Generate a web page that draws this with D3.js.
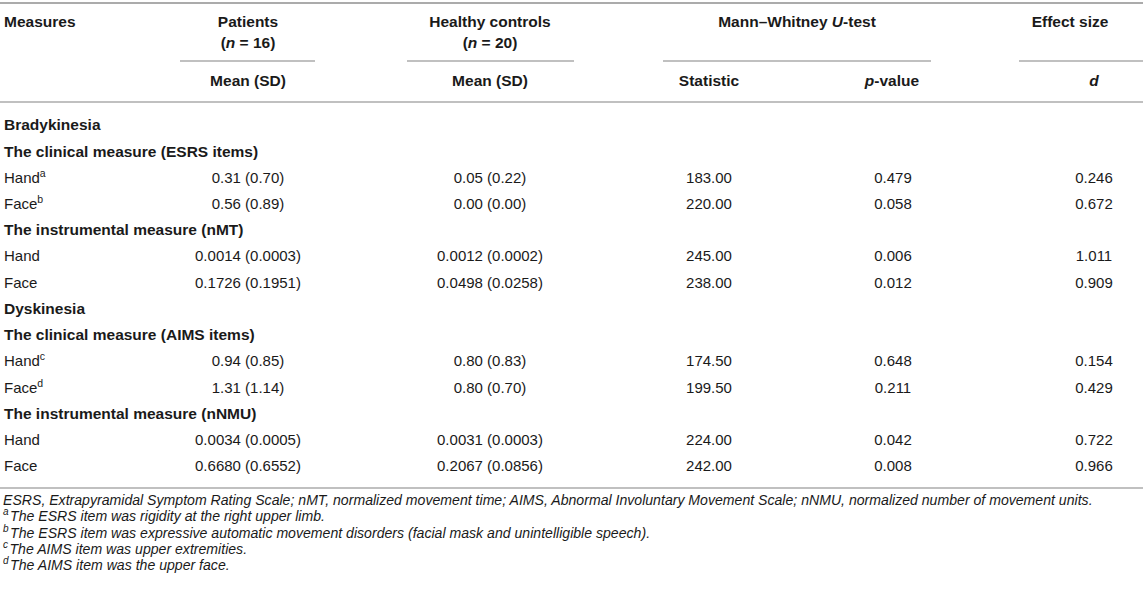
<!DOCTYPE html>
<html>
<head>
<meta charset="utf-8">
<script src="https://cdn.jsdelivr.net/npm/d3@7"></script>
<style>
  html, body { margin: 0; padding: 0; background: #fff; }
  svg text { font-family: "Liberation Sans", Arial, Helvetica, sans-serif; fill: #1a1a1a; }
</style>
</head>
<body>
<div class="vis-table"></div>
<script>
// Row labels (table body, top to bottom)
const rowLabels = ["Bradykinesia", "The clinical measure (ESRS items)", "Hand", "Face",
    "The instrumental measure (nMT)", "Hand", "Face",
    "Dyskinesia", "The clinical measure (AIMS items)", "Hand", "Face",
    "The instrumental measure (nNMU)", "Hand", "Face"];
const rowKinds = ["section", "group", "item", "item", "group", "item", "item",
    "section", "group", "item", "item", "group", "item", "item"];
const rowNotes = ["", "", "a", "b", "", "", "", "", "", "c", "d", "", "", ""];

// Values for the eight item rows
const decimals = [2, 2, 4, 4, 2, 2, 4, 4];
const patientMean = [0.31, 0.56, 0.0014, 0.1726, 0.94, 1.31, 0.0034, 0.6680];
const patientSD = [0.70, 0.89, 0.0003, 0.1951, 0.85, 1.14, 0.0005, 0.6552];
const controlMean = [0.05, 0.00, 0.0012, 0.0498, 0.80, 0.80, 0.0031, 0.2067];
const controlSD = [0.22, 0.00, 0.0002, 0.0258, 0.83, 0.70, 0.0003, 0.0856];
const uStatistic = [183.00, 220.00, 245.00, 238.00, 174.50, 199.50, 224.00, 242.00];
const pValue = [0.479, 0.058, 0.006, 0.012, 0.648, 0.211, 0.042, 0.008];
const effectD = [0.246, 0.672, 1.011, 0.909, 0.154, 0.429, 0.722, 0.966];

const footNotes = [
    ["", "ESRS, Extrapyramidal Symptom Rating Scale; nMT, normalized movement time; AIMS, Abnormal Involuntary Movement Scale; nNMU, normalized number of movement units."],
    ["a", "The ESRS item was rigidity at the right upper limb."],
    ["b", "The ESRS item was expressive automatic movement disorders (facial mask and unintelligible speech)."],
    ["c", "The AIMS item was upper extremities."],
    ["d", "The AIMS item was the upper face."]
];

const W = 1143, H = 597;
const lineColor = "#ababab";
const fs = 15;

const svg = d3.select(".vis-table").append("svg")
    .attr("width", W).attr("height", H);

// Column centres
const col = d3.scaleOrdinal()
    .domain(["patients", "controls", "stat", "p", "d"])
    .range([248, 490, 709, 893, 1094]);

// Row positions
const y = d3.scaleLinear().domain([0, rowLabels.length - 1]).range([125, 466]);

function rule(x1, x2, yy, w) {
    svg.append("line")
        .attr("x1", x1).attr("x2", x2).attr("y1", yy).attr("y2", yy)
        .attr("stroke", lineColor).attr("stroke-width", w || 1.5);
}

// Header rules
rule(0, W, 3, 2);
rule(180, 315, 61);
rule(407, 574, 61);
rule(663, 931, 61);
rule(1019, W, 61);
rule(0, W, 102);

function head(x, yy, parts, anchor) {
    const t = svg.append("text")
        .attr("x", x).attr("y", yy).attr("dy", "0.35em")
        .attr("text-anchor", anchor || "middle")
        .attr("font-size", fs + 0.5).attr("font-weight", "bold");
    parts.forEach(p => {
        t.append("tspan").text(p[0]).attr("font-style", p[1] ? "italic" : null);
    });
    return t;
}

head(4, 22, [["Measures"]], "start");
head(col("patients"), 22, [["Patients"]]);
head(col("patients"), 43, [["("], ["n", true], [" = 16)"]]);
head(col("controls"), 22, [["Healthy controls"]]);
head(col("controls"), 43, [["("], ["n", true], [" = 20)"]]);
head(797, 22, [["Mann–Whitney "], ["U", true], ["-test"]]);
head(1070, 22, [["Effect size"]]);

head(col("patients"), 81, [["Mean (SD)"]]);
head(col("controls"), 81, [["Mean (SD)"]]);
head(col("stat"), 81, [["Statistic"]]);
head(col("p") - 1, 81, [["p", true], ["-value"]]);
head(col("d"), 81, [["d", true]]);

// Body rows
const rows = rowLabels.map((label, i) => ({ label, kind: rowKinds[i], note: rowNotes[i], i }));
let k = 0;
rows.forEach(r => { if (r.kind === "item") r.k = k++; });

const labels = svg.selectAll(".row-label")
    .data(rows)
    .enter()
    .append("text")
    .attr("class", "row-label")
    .attr("x", 4)
    .attr("y", d => y(d.i))
    .attr("dy", "0.35em")
    .attr("font-size", d => d.kind === "item" ? fs : fs + 0.5)
    .attr("font-weight", d => d.kind === "item" ? "normal" : "bold")
    .text(d => d.label);

labels.filter(d => d.note)
    .append("tspan")
    .attr("dy", -6)
    .attr("font-size", 10.5)
    .text(d => d.note);

const items = rows.filter(r => r.kind === "item");
const f2 = d3.format(".2f"), f3 = d3.format(".3f");
const fmt = (v, n) => d3.format("." + n + "f")(v);

const cells = [];
items.forEach(r => {
    const j = r.k;
    cells.push({ c: "patients", i: r.i, t: fmt(patientMean[j], decimals[j]) + " (" + fmt(patientSD[j], decimals[j]) + ")" });
    cells.push({ c: "controls", i: r.i, t: fmt(controlMean[j], decimals[j]) + " (" + fmt(controlSD[j], decimals[j]) + ")" });
    cells.push({ c: "stat", i: r.i, t: f2(uStatistic[j]) });
    cells.push({ c: "p", i: r.i, t: f3(pValue[j]) });
    cells.push({ c: "d", i: r.i, t: f3(effectD[j]) });
});

svg.selectAll(".cell")
    .data(cells)
    .enter()
    .append("text")
    .attr("class", "cell")
    .attr("x", d => col(d.c))
    .attr("y", d => y(d.i))
    .attr("dy", "0.35em")
    .attr("text-anchor", "middle")
    .attr("font-size", fs)
    .text(d => d.t);

// Bottom rule
rule(0, W, 488);

// Footnotes
const fy = d3.scaleLinear().domain([0, footNotes.length - 1]).range([505, 570]);
const notes = svg.selectAll(".note")
    .data(footNotes)
    .enter()
    .append("text")
    .attr("class", "note")
    .attr("x", 3)
    .attr("y", (d, i) => fy(i))
    .attr("dy", "0.35em")
    .attr("font-size", 14.1)
    .attr("font-style", "italic");

notes.filter(d => d[0])
    .append("tspan")
    .attr("dy", -6)
    .attr("font-size", 10)
    .text(d => d[0]);

notes.append("tspan")
    .attr("dy", d => d[0] ? 6 : 0)
    .attr("dx", d => d[0] ? 1.5 : 0)
    .text(d => d[1]);
</script>
</body>
</html>
